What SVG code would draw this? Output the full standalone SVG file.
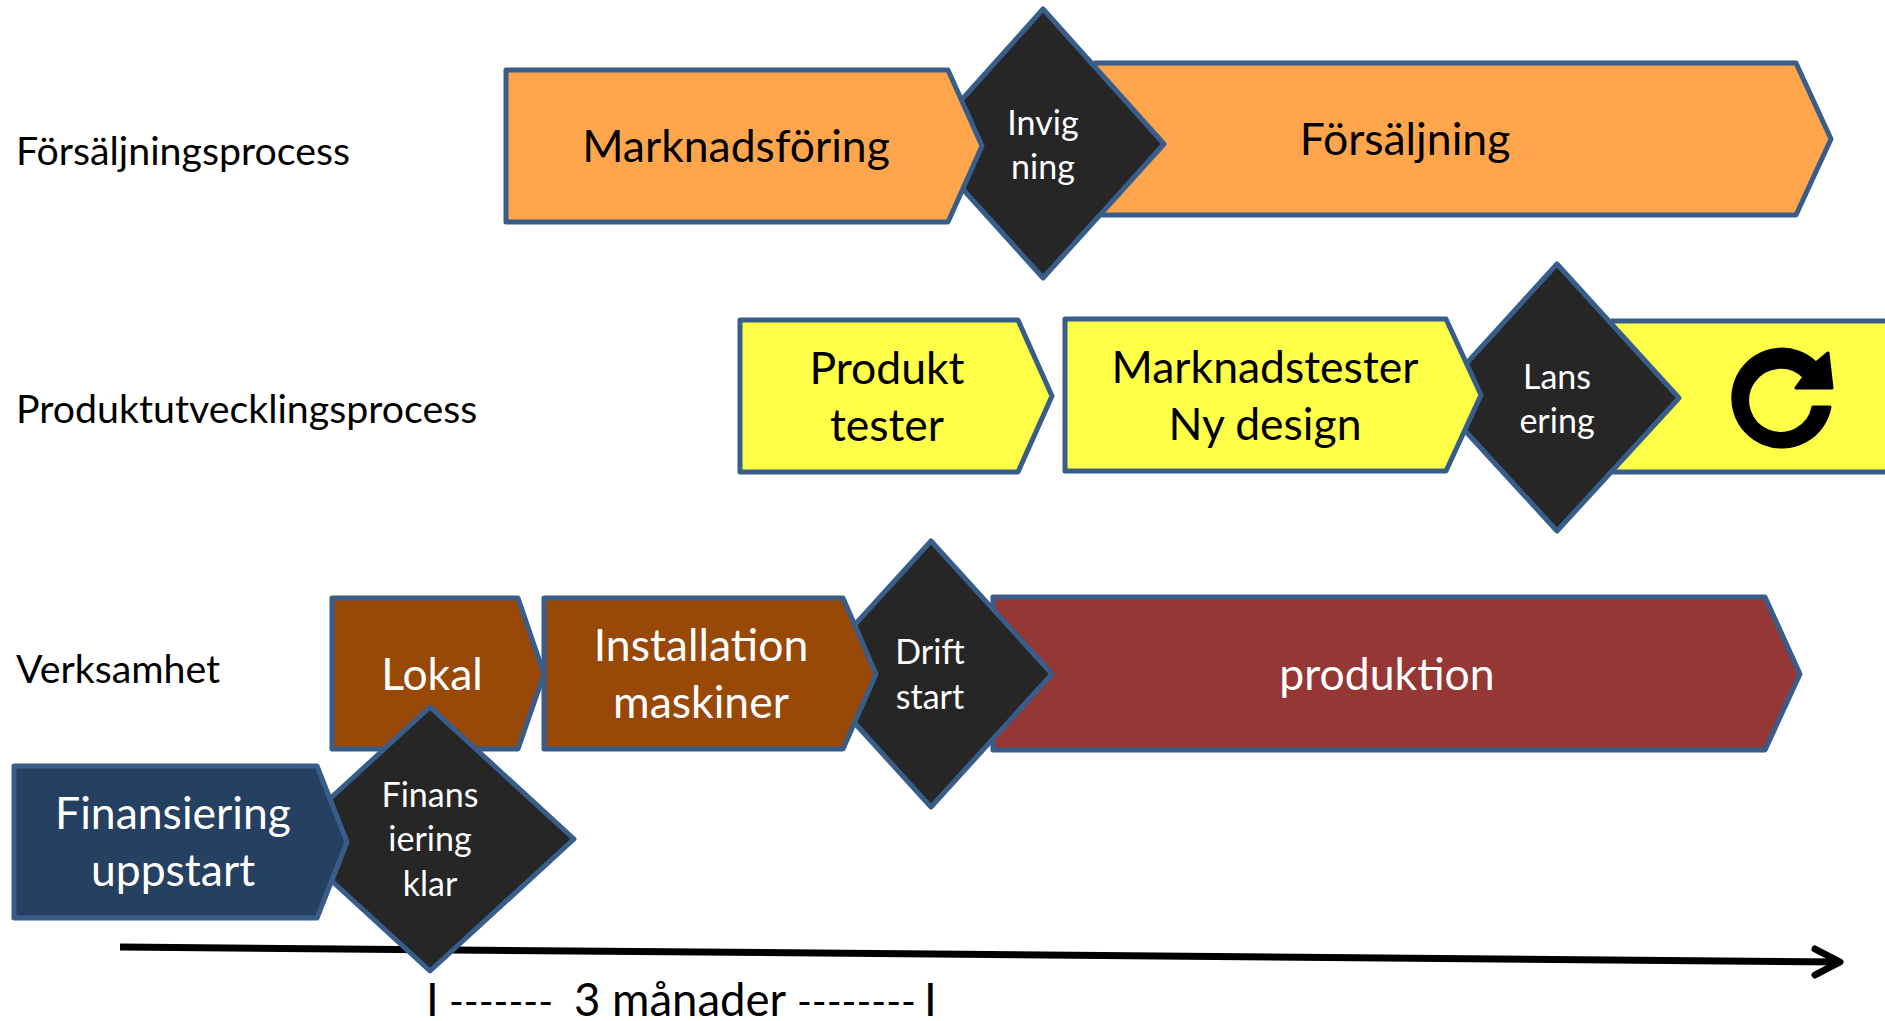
<svg xmlns="http://www.w3.org/2000/svg" width="1885" height="1021" viewBox="0 0 1885 1021">
<style>
text{font-family:"Lato","Open Sans","Liberation Sans",sans-serif;text-anchor:middle}
.s{stroke:#385D8A;stroke-width:5;stroke-linejoin:round}
.d{fill:#262626}
.o{fill:#FFA64D}
.y{fill:#FFFF47}
.b{fill:#984807}
.l{font-size:44.5px}
.m{font-size:34px}
.w{fill:#fff}
.k{fill:#000}
.side{font-size:39.3px;text-anchor:start}
.t{text-anchor:start}
</style>
<rect width="1885" height="1021" fill="#fff"/>
<g id="connectors">
<path id="tidslinje" d="M120 947L1840 962" fill="none" stroke="#000" stroke-width="7"/>
<path d="M1815 949L1840 962L1815 975" fill="none" stroke="#000" stroke-width="7" stroke-linecap="round" stroke-linejoin="round"/>
</g>
<text class="side k" x="16" y="165">Försäljningsprocess</text>
<text class="side k" x="16" y="423">Produktutvecklingsprocess</text>
<text class="side k" x="16" y="683">Verksamhet</text>
<g id="forsaljning"><path class="s o" d="M1095 63H1796L1831 139L1796 215H1095Z"/><text class="l k" x="1405" y="155">Försäljning</text></g>
<g id="invigning"><path class="s d" d="M1043 9L1164 144L1043 278L922 144Z"/><text class="m w" x="1043" y="135">Invig</text><text class="m w" x="1043" y="179">ning</text></g>
<g id="marknadsforing"><path class="s o" d="M506 70H948L982 146L948 222H506Z"/><text class="l k" x="736" y="162">Marknadsföring</text></g>
<g id="produkttester"><path class="s y" d="M740 320H1018L1052 396L1018 472H740Z"/><text class="l k" x="887" y="384">Produkt</text><text class="l k" x="887" y="441">tester</text></g>
<g id="nastacykel"><path class="s y" d="M1612 321H1890V472H1612Z"/>
<path d="M1830 407A49 49 0 1 1 1816 363L1828 353L1832 388H1796L1804 377A33 33 0 1 0 1813 407Z" fill="#000" stroke="#000" stroke-width="3" stroke-linejoin="round"/></g>
<g id="lansering"><path class="s d" d="M1557 264L1679 398L1557 531L1435 398Z"/><text class="m w" x="1557" y="389">Lans</text><text class="m w" x="1557" y="433">ering</text></g>
<g id="marknadstester"><path class="s y" d="M1065 319H1446L1481 395L1446 471H1065Z"/><text class="l k" x="1265" y="383">Marknadstester</text><text class="l k" x="1265" y="440">Ny design</text></g>
<g id="produktion"><path class="s" fill="#953735" d="M993 597H1765L1800 674L1765 750H993Z"/><text class="l w" x="1387" y="690">produktion</text></g>
<g id="driftstart"><path class="s d" d="M931 541L1052 674L931 807L810 674Z"/><text class="m w" x="930" y="664">Drift</text><text class="m w" x="930" y="709">start</text></g>
<g id="lokal"><path class="s b" d="M332 598H518L544 674L518 749H332Z"/><text class="l w" x="432" y="690">Lokal</text></g>
<g id="installation"><path class="s b" d="M544 598H843L876 674L843 749H544Z"/><text class="l w" x="701" y="661">Installation</text><text class="l w" x="701" y="718">maskiner</text></g>
<g id="finansieringklar"><path class="s d" d="M430 707L574 839L430 971L286 839Z"/><text class="m w" x="430" y="807">Finans</text><text class="m w" x="430" y="851">iering</text><text class="m w" x="430" y="896">klar</text></g>
<g id="finansiering"><path class="s" fill="#254061" d="M14 766H317L347 842L317 918H14Z"/><text class="l w" x="173" y="829">Finansiering</text><text class="l w" x="173" y="886">uppstart</text></g>
<text class="k t" font-size="45.5" y="1016"><tspan x="426">I</tspan><tspan x="449" font-size="40">-------</tspan><tspan x="574">3 månader</tspan><tspan x="797" font-size="40">--------</tspan><tspan x="924">I</tspan></text>
</svg>
